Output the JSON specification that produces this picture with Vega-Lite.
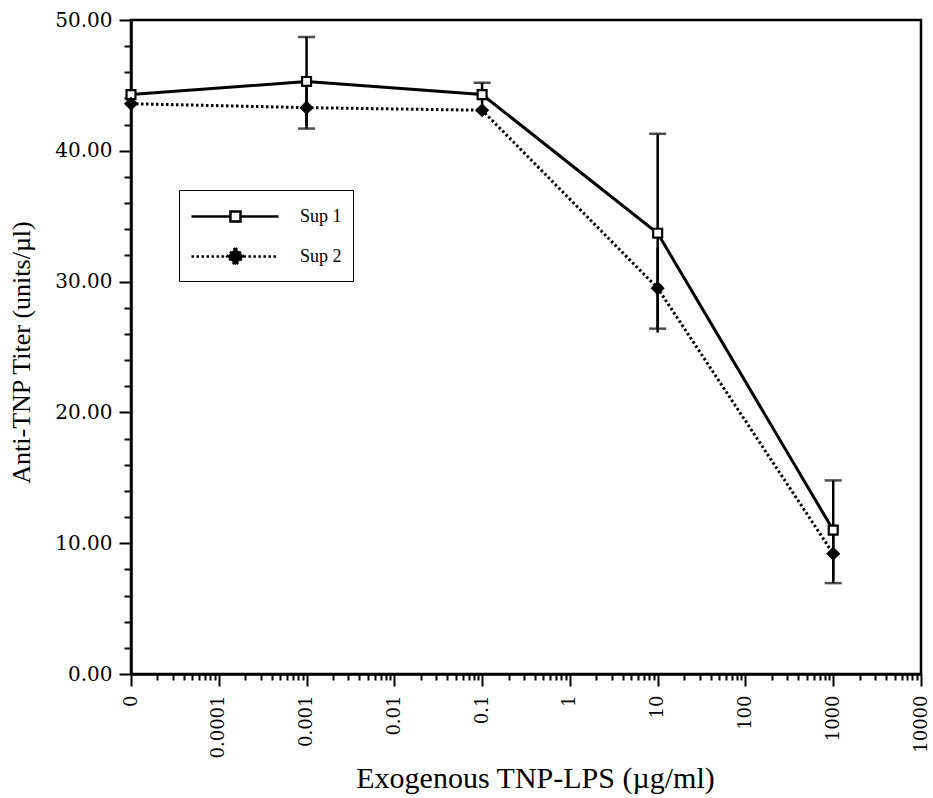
{
  "$schema": "https://vega.github.io/schema/vega-lite/v6.json",
  "width": 790,
  "height": 654,
  "autosize": {"type": "none"},
  "padding": {"left": 131, "top": 20, "right": 12, "bottom": 124},
  "background": "white",
  "config": {
    "view": {"stroke": "black", "strokeWidth": 2.5},
    "axis": {
      "grid": false,
      "domainColor": "black",
      "domainWidth": 2.5,
      "tickColor": "black",
      "tickWidth": 2,
      "labelColor": "black",
      "titleColor": "black",
      "labelFont": "DejaVu Serif",
      "titleFont": "Liberation Serif",
      "titleFontWeight": "normal",
      "labelOverlap": false,
      "labelFlush": false
    }
  },
  "data": {
    "values": [
      {"x": 0.00001, "series": "Sup 1", "titer": 44.3, "lower": null, "upper": null},
      {"x": 0.001, "series": "Sup 1", "titer": 45.3, "lower": 41.9, "upper": 48.7},
      {"x": 0.1, "series": "Sup 1", "titer": 44.3, "lower": 43.4, "upper": 45.2},
      {"x": 10, "series": "Sup 1", "titer": 33.7, "lower": 26.1, "upper": 41.3},
      {"x": 1000, "series": "Sup 1", "titer": 11.0, "lower": 7.2, "upper": 14.8},
      {"x": 0.00001, "series": "Sup 2", "titer": 43.6, "lower": null, "upper": null},
      {"x": 0.001, "series": "Sup 2", "titer": 43.3, "lower": 41.7, "upper": 44.9},
      {"x": 0.1, "series": "Sup 2", "titer": 43.1, "lower": null, "upper": null},
      {"x": 10, "series": "Sup 2", "titer": 29.5, "lower": 26.4, "upper": 32.6},
      {"x": 1000, "series": "Sup 2", "titer": 9.2, "lower": 6.95, "upper": 11.45}
    ]
  },
  "encoding": {
    "x": {
      "field": "x",
      "type": "quantitative",
      "scale": {"type": "log", "domain": [0.00001, 10000], "nice": false},
      "axis": {
        "title": "Exogenous TNP-LPS (µg/ml)",
        "titleFont": "Liberation Serif",
        "titleFontWeight": "normal",
        "titleFontSize": 30,
        "titleX": 404,
        "titleY": 104,
        "titleBaseline": "middle",
        "values": [0.00001, 0.00002, 0.00003, 0.00004, 0.00005, 0.00006, 0.00007, 0.00008, 0.00009,
                   0.0001, 0.0002, 0.0003, 0.0004, 0.0005, 0.0006, 0.0007, 0.0008, 0.0009,
                   0.001, 0.002, 0.003, 0.004, 0.005, 0.006, 0.007, 0.008, 0.009,
                   0.01, 0.02, 0.03, 0.04, 0.05, 0.06, 0.07, 0.08, 0.09,
                   0.1, 0.2, 0.3, 0.4, 0.5, 0.6, 0.7, 0.8, 0.9,
                   1, 2, 3, 4, 5, 6, 7, 8, 9,
                   10, 20, 30, 40, 50, 60, 70, 80, 90,
                   100, 200, 300, 400, 500, 600, 700, 800, 900,
                   1000, 2000, 3000, 4000, 5000, 6000, 7000, 8000, 9000, 10000],
        "labelExpr": "datum.value < 0.000015 ? '0' : (abs(log(datum.value)/LN10 - round(log(datum.value)/LN10)) < 0.001 ? format(datum.value, '~f') : '')",
        "labelAngle": -90,
        "labelAlign": "right",
        "labelBaseline": "middle",
        "labelFontSize": 18,
        "labelPadding": 9,
        "tickSize": {"condition": {"test": "abs(log(datum.value)/LN10 - round(log(datum.value)/LN10)) < 0.001", "value": 12}, "value": 6}
      }
    },
    "y": {
      "field": "titer",
      "type": "quantitative",
      "scale": {"domain": [0, 50], "nice": false},
      "axis": {
        "title": "Anti-TNP Titer (units/µl)",
        "titleFont": "Liberation Serif",
        "titleFontWeight": "normal",
        "titleFontSize": 26,
        "titleX": -110,
        "titleY": 332,
        "titleBaseline": "middle",
        "values": [0, 2, 4, 6, 8, 10, 12, 14, 16, 18, 20, 22, 24, 26, 28, 30, 32, 34, 36, 38, 40, 42, 44, 46, 48, 50],
        "labelExpr": "datum.value % 10 == 0 ? format(datum.value, '.2f') : ''",
        "labelFontSize": 20,
        "labelPadding": 7,
        "tickSize": {"condition": {"test": "datum.value % 10 == 0", "value": 12}, "value": 7}
      }
    }
  },
  "layer": [
    {
      "transform": [{"filter": "datum.series == 'Sup 1'"}],
      "mark": {"type": "line", "color": "black", "strokeWidth": 3}
    },
    {
      "transform": [{"filter": "datum.series == 'Sup 2'"}],
      "mark": {"type": "line", "color": "black", "strokeWidth": 3, "strokeDash": [2.5, 2.5]}
    },
    {
      "transform": [{"filter": "datum.lower != null"}],
      "mark": {"type": "rule", "color": "black", "strokeWidth": 2.5},
      "encoding": {"y": {"field": "lower", "type": "quantitative"}, "y2": {"field": "upper"}}
    },
    {
      "transform": [{"filter": "datum.series == 'Sup 1' && datum.upper != null"}],
      "mark": {"type": "tick", "orient": "horizontal", "color": "black", "size": 17, "thickness": 2.5},
      "encoding": {"y": {"field": "upper", "type": "quantitative"}}
    },
    {
      "transform": [{"filter": "datum.series == 'Sup 2' && datum.lower != null"}],
      "mark": {"type": "tick", "orient": "horizontal", "color": "black", "size": 17, "thickness": 2.5},
      "encoding": {"y": {"field": "lower", "type": "quantitative"}}
    },
    {
      "transform": [{"filter": "datum.series == 'Sup 1'"}],
      "mark": {"type": "point", "shape": "square", "size": 80, "filled": true, "fill": "white", "stroke": "black", "strokeWidth": 2.2, "opacity": 1}
    },
    {
      "transform": [{"filter": "datum.series == 'Sup 2'"}],
      "mark": {"type": "point", "shape": "diamond", "size": 200, "filled": true, "color": "black", "opacity": 1}
    },
    {
      "mark": {"type": "point", "size": 0, "filled": true, "strokeWidth": 2.5},
      "encoding": {
        "shape": {
          "field": "series",
          "type": "nominal",
          "scale": {"domain": ["Sup 1", "Sup 2"], "range": ["M-1,0H1.78M2.5,0H5.21M1.78,-0.36H2.5V0.36H1.78Z", "M-1,0H1.57M2.71,0H5.21M2.14,-0.6L2.74,0L2.14,0.6L1.54,0Z"]},
          "legend": {
            "title": null,
            "orient": "none",
            "legendX": 48,
            "legendY": 170,
            "direction": "vertical",
            "strokeColor": "black",
            "padding": 11,
            "symbolSize": 784,
            "symbolStrokeWidth": 2.5,
            "symbolOpacity": 1,
            "labelFont": "Liberation Serif",
            "labelFontSize": 18,
            "labelColor": "black",
            "labelOffset": 79,
            "rowPadding": 14,
            "encode": {"legend": {"update": {"strokeWidth": {"value": 2.5}}}}
          }
        },
        "fill": {
          "field": "series",
          "type": "nominal",
          "scale": {"domain": ["Sup 1", "Sup 2"], "range": ["white", "black"]}
        },
        "stroke": {
          "field": "series",
          "type": "nominal",
          "scale": {"domain": ["Sup 1", "Sup 2"], "range": ["black", "black"]}
        },
        "strokeDash": {
          "field": "series",
          "type": "nominal",
          "scale": {"domain": ["Sup 1", "Sup 2"], "range": [[1, 0], [2.5, 2.5]]}
        }
      }
    }
  ]
}
